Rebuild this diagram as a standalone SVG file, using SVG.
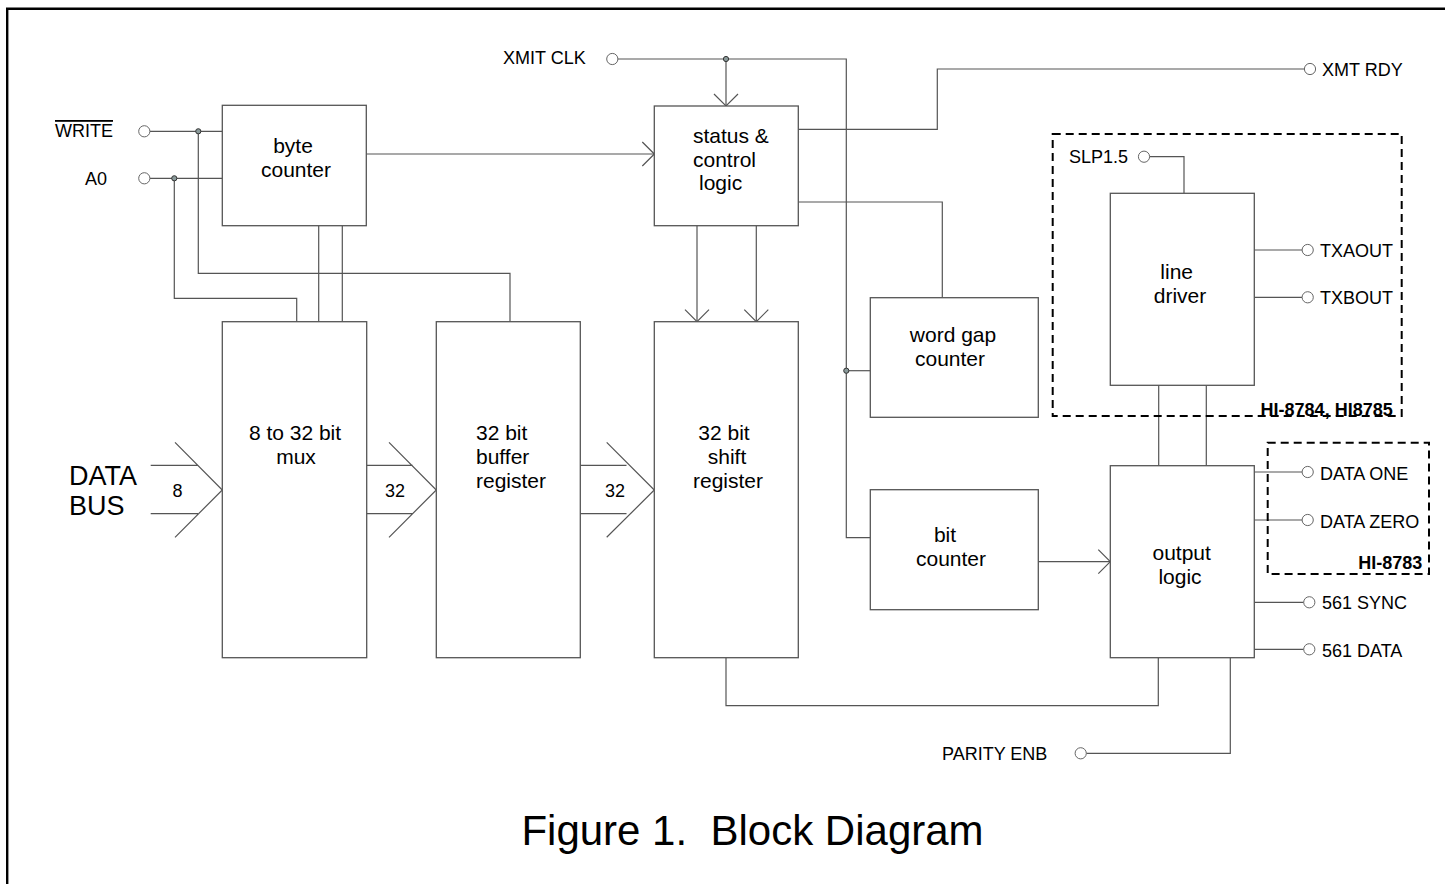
<svg xmlns="http://www.w3.org/2000/svg" width="1445" height="884" viewBox="0 0 1445 884">
<defs>
<style>
.box{fill:#fff;stroke:#555;stroke-width:1.3}
.ln{fill:none;stroke:#555;stroke-width:1.2}
.pin{fill:#fff;stroke:#666;stroke-width:1}
.dot{fill:#8a9a9a;stroke:#333;stroke-width:1}
.dash{fill:none;stroke:#000;stroke-width:2;stroke-dasharray:8 5}
text{font-family:"Liberation Sans",Arial,sans-serif;fill:#000}
.nl{font-size:21px;text-anchor:middle}
.nls{font-size:21px}
.pl{font-size:18px}
.hi{font-size:18px;font-weight:bold;text-anchor:end}
.big{font-size:27px}
.bw{font-size:18px;text-anchor:middle}
</style>
<marker id="arr" viewBox="-13 -13 14 26" refX="0" refY="0" markerWidth="14" markerHeight="26" markerUnits="userSpaceOnUse" orient="auto">
<path d="M-12,-12 L0,0 L-12,12" fill="none" stroke="#555" stroke-width="1.2"/>
</marker>
</defs>
<rect width="1445" height="884" fill="#fff"/>
<path d="M7.2,884 V8.7 H1445" fill="none" stroke="#000" stroke-width="2.4"/>

<g id="connectors">
<path class="ln" d="M149.8,131.3 H222.3"/>
<path class="ln" d="M198.3,131.3 V273.3 H510 V321.7"/>
<path class="ln" d="M149.8,178.3 H222.3"/>
<path class="ln" d="M174.3,178.3 V298.3 H296.7 V321.7"/>
<path class="ln" d="M318.7,225.7 V321.7 M342.3,225.7 V321.7"/>
<path class="ln" d="M366.3,154 H654.3" marker-end="url(#arr)"/>
<path class="ln" d="M617.8,59 H846.3 V537.7 H870.3"/>
<path class="ln" d="M846.3,370.7 H870.3"/>
<path class="ln" d="M726,59 V106" marker-end="url(#arr)"/>
<path class="ln" d="M697,225.7 V321.7" marker-end="url(#arr)"/>
<path class="ln" d="M756.3,225.7 V321.7" marker-end="url(#arr)"/>
<path class="ln" d="M798.3,129.3 H937.3 V69 H1304.5"/>
<path class="ln" d="M798.3,202 H942.3 V297.7"/>
<path class="ln" d="M1038.3,561.7 H1110.3" marker-end="url(#arr)"/>
<path class="ln" d="M1149.5,156.7 H1184 V193.3"/>
<path class="ln" d="M1254.3,250 H1302.2 M1254.3,297.3 H1302.2"/>
<path class="ln" d="M1158.7,385.3 V465.7 M1206.3,385.3 V465.7"/>
<path class="ln" d="M1254.3,472 H1302.2 M1254.3,520 H1302.2 M1254.3,602.3 H1303.8 M1254.3,649.3 H1303.8"/>
<path class="ln" d="M726,657.7 V705.7 H1158.3 V657.7"/>
<path class="ln" d="M1230.3,657.7 V753.3 H1086.2"/>
<!-- bus arrows -->
<path class="ln" d="M150.7,465.3 H198 M150.7,513.7 H198 M175,442.3 L222.3,490 L175,537.3"/>
<path class="ln" d="M366.7,465.3 H412.7 M366.7,513.7 H412.7 M389,442.3 L436.3,490 L389,537.3"/>
<path class="ln" d="M580.3,465.3 H626.5 M580.3,513.7 H626.5 M606.7,442.3 L654.3,490 L606.7,537.3"/>
<circle class="dot" cx="198.3" cy="131.3" r="2.6"/>
<circle class="dot" cx="174.3" cy="178.3" r="2.6"/>
<circle class="dot" cx="726" cy="59" r="2.6"/>
<circle class="dot" cx="846.3" cy="370.7" r="2.6"/>
</g>

<g id="pins">
<circle class="pin" cx="144.3" cy="131.3" r="5.6"/>
<text class="pl" x="55" y="137" text-decoration="overline">WRITE</text>
<circle class="pin" cx="144.3" cy="178.3" r="5.6"/>
<text class="pl" x="85" y="185">A0</text>
<circle class="pin" cx="612.3" cy="59" r="5.6"/>
<text class="pl" x="503" y="64">XMIT CLK</text>
<circle class="pin" cx="1310" cy="69" r="5.6"/>
<text class="pl" x="1322" y="75.5">XMT RDY</text>
<circle class="pin" cx="1144" cy="156.7" r="5.6"/>
<text class="pl" x="1069" y="163">SLP1.5</text>
<circle class="pin" cx="1307.7" cy="250" r="5.6"/>
<text class="pl" x="1320" y="257">TXAOUT</text>
<circle class="pin" cx="1307.7" cy="297.3" r="5.6"/>
<text class="pl" x="1320" y="304.3">TXBOUT</text>
<circle class="pin" cx="1307.7" cy="472" r="5.6"/>
<text class="pl" x="1320" y="479.5">DATA ONE</text>
<circle class="pin" cx="1307.7" cy="520" r="5.6"/>
<text class="pl" x="1320" y="527.5">DATA ZERO</text>
<circle class="pin" cx="1309.3" cy="602.3" r="5.6"/>
<text class="pl" x="1322" y="609">561 SYNC</text>
<circle class="pin" cx="1309.3" cy="649.3" r="5.6"/>
<text class="pl" x="1322" y="656.5">561 DATA</text>
<circle class="pin" cx="1080.7" cy="753.3" r="5.6"/>
<text class="pl" x="942" y="760">PARITY ENB</text>
<text class="big" x="69" y="485">DATA</text>
<text class="big" x="69" y="515">BUS</text>
<text class="bw" x="177.5" y="497">8</text>
<text class="bw" x="395" y="497">32</text>
<text class="bw" x="615" y="497">32</text>
</g>

<g id="byte-counter">
<rect class="box" x="222.3" y="105.3" width="144" height="120.4"/>
<text class="nl" x="293" y="153.3">byte</text>
<text class="nl" x="296" y="177.3">counter</text>
</g>
<g id="mux">
<rect class="box" x="222.3" y="321.7" width="144.4" height="336"/>
<text class="nl" x="295" y="440">8 to 32 bit</text>
<text class="nl" x="296" y="463.5">mux</text>
</g>
<g id="buffer-register">
<rect class="box" x="436.3" y="321.7" width="144" height="336"/>
<text class="nls" x="476" y="440">32 bit</text>
<text class="nls" x="476" y="464">buffer</text>
<text class="nls" x="476" y="488">register</text>
</g>
<g id="status-control">
<rect class="box" x="654.3" y="106" width="144" height="119.7"/>
<text class="nls" x="693" y="142.7">status &amp;</text>
<text class="nls" x="693" y="166.7">control</text>
<text class="nls" x="699" y="189.5">logic</text>
</g>
<g id="shift-register">
<rect class="box" x="654.3" y="321.7" width="144" height="336"/>
<text class="nl" x="724" y="440">32 bit</text>
<text class="nl" x="727" y="464">shift</text>
<text class="nl" x="728" y="488">register</text>
</g>
<g id="word-gap-counter">
<rect class="box" x="870.3" y="297.7" width="168" height="119.6"/>
<text class="nl" x="953" y="342.3">word gap</text>
<text class="nl" x="950" y="366">counter</text>
</g>
<g id="bit-counter">
<rect class="box" x="870.3" y="489.7" width="168" height="120"/>
<text class="nl" x="945" y="541.7">bit</text>
<text class="nl" x="951" y="565.7">counter</text>
</g>
<g id="line-driver">
<rect class="box" x="1110.3" y="193.3" width="144" height="192"/>
<text class="nl" x="1176.7" y="279">line</text>
<text class="nl" x="1180" y="302.7">driver</text>
</g>
<g id="output-logic">
<rect class="box" x="1110.3" y="465.7" width="144" height="192"/>
<text class="nl" x="1181.7" y="560">output</text>
<text class="nl" x="1180" y="584">logic</text>
</g>
<g id="hi-8784-group">
<text class="hi" x="1392.7" y="415.5">HI-8784, HI8785</text>
<rect class="dash" x="1052.7" y="134" width="349" height="282"/>
</g>
<g id="hi-8783-group">
<text class="hi" x="1422.3" y="569.3">HI-8783</text>
<rect class="dash" x="1267.7" y="442.7" width="161.3" height="131.3"/>
</g>
<text x="752.5" y="845" font-size="42" text-anchor="middle" xml:space="preserve" style="white-space:pre">Figure 1.  Block Diagram</text>
</svg>
